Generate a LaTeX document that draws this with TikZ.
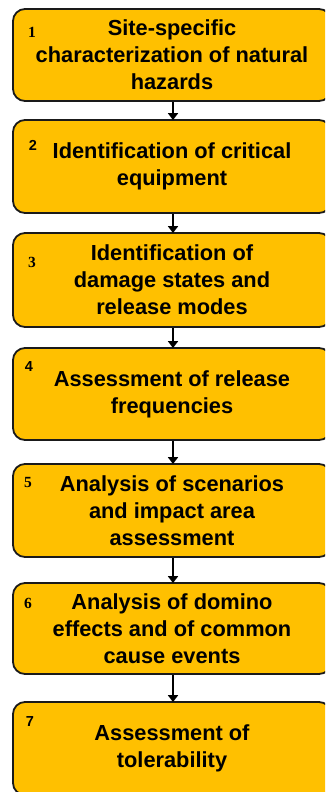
\documentclass[tikz,border=0pt]{standalone}
\usepackage{fontspec}
\setmainfont{Liberation Sans}
\newfontfamily\numserif{Liberation Serif}
\usetikzlibrary{arrows.meta}
\definecolor{boxfill}{HTML}{FFC000}
\definecolor{boxline}{HTML}{1A1A1A}
\tikzset{
  stepbox/.style={draw=boxline, line width=1.8pt, fill=boxfill, rounded corners=12pt,
    minimum width=318pt, inner sep=0pt, align=center,
    font=\fontsize{21.8}{27}\selectfont\bfseries},
  numsans/.style={inner sep=0pt, font=\fontsize{14.5}{14.5}\selectfont\bfseries},
  numserif/.style={inner sep=0pt, font=\fontsize{15.5}{15.5}\selectfont\numserif\bfseries},
  flow/.style={draw=black, line width=2.8pt, -{Triangle[length=7pt,width=10pt]}, shorten >=-1pt}
}
\begin{document}
\begin{tikzpicture}[x=1pt,y=-1pt]
\useasboundingbox (0,0) rectangle (325,792);
\clip (0,0) rectangle (325,792);
\node[stepbox, minimum height=92pt] (b1) at (172,55) {Site-specific\\characterization of natural\\hazards};
\node[stepbox, minimum height=93pt] (b2) at (172,166.5) {Identification of critical\\equipment};
\node[stepbox, minimum height=94pt] (b3) at (172,280) {Identification of\\damage states and\\release modes};
\node[stepbox, minimum height=92pt] (b4) at (172,394) {Assessment of release\\frequencies};
\node[stepbox, minimum height=93pt] (b5) at (172,510.5) {Analysis of scenarios\\and impact area\\assessment};
\node[stepbox, minimum height=91pt] (b6) at (172,628.5) {Analysis of domino\\effects and of common\\cause events};
\node[stepbox, minimum height=93pt] (b7) at (172,748.5) {Assessment of\\tolerability};
\node[numserif] (n1) at (32,32) {1};
\node[numsans] (n2) at (33,145) {2};
\node[numserif] (n3) at (32,262) {3};
\node[numsans] (n4) at (29,367) {4};
\node[numserif] (n5) at (28,482) {5};
\node[numserif] (n6) at (28,603) {6};
\node[numsans] (n7) at (30,722) {7};
\draw[flow] (b1.south -| 173,0) -- (b2.north -| 173,0);
\draw[flow] (b2.south -| 173,0) -- (b3.north -| 173,0);
\draw[flow] (b3.south -| 173,0) -- (b4.north -| 173,0);
\draw[flow] (b4.south -| 173,0) -- (b5.north -| 173,0);
\draw[flow] (b5.south -| 173,0) -- (b6.north -| 173,0);
\draw[flow] (b6.south -| 173,0) -- (b7.north -| 173,0);
\end{tikzpicture}
\end{document}
